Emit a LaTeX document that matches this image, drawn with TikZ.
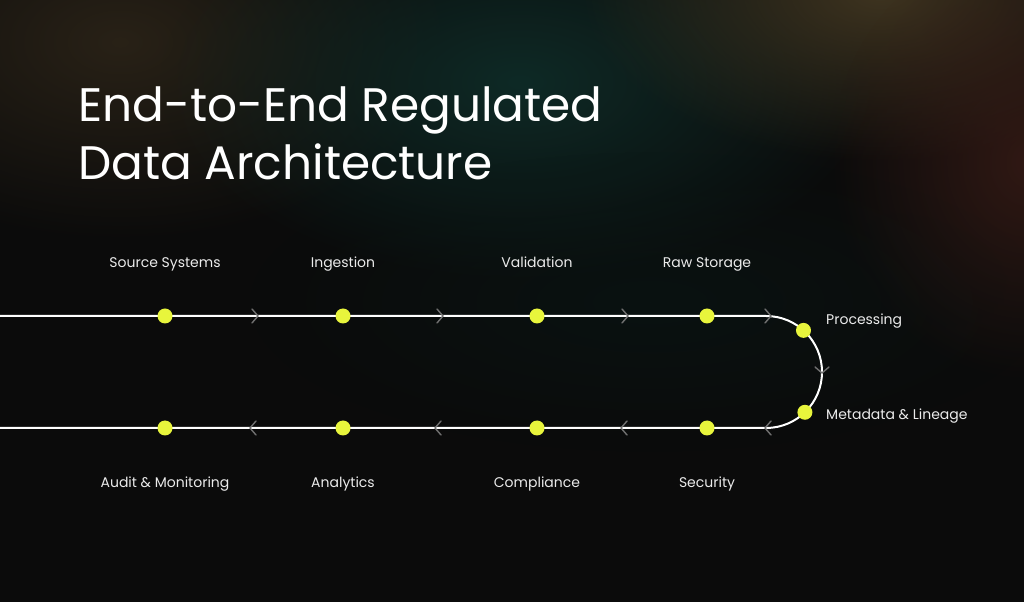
\documentclass[tikz,border=0pt]{standalone}
\usepackage{fontspec}
\setmainfont{Poppins}
\usetikzlibrary{fadings,calc}
\tikzfading[name=softglow, inner color=transparent!0, outer color=transparent!100]
\definecolor{bgdark}{HTML}{0B0B0B}
\definecolor{dotyellow}{HTML}{E8F53C}
\definecolor{chev}{HTML}{707070}
\definecolor{glowteal}{HTML}{0E2A26}
\definecolor{glowbrown}{HTML}{2C2418}
\definecolor{glowolive}{HTML}{3E3420}
\definecolor{glowred}{HTML}{3A1C16}
\begin{document}
\begin{tikzpicture}[x=1pt,y=1pt,
  flow/.style={draw=white, line width=2pt},
  dotnode/.style={circle, fill=dotyellow, minimum size=15pt, inner sep=0pt},
  lbl/.style={text=white!92!black, font=\fontsize{14}{17}\selectfont, inner sep=0pt},
  ttl/.style={anchor=base west, text=white, font=\fontsize{47}{56}\selectfont, inner sep=0pt},
  chevr/.style={draw=chev, line width=1.4pt, line cap=round, line join=round}]
% background
\fill[bgdark] (0,0) rectangle (1024,602);
\useasboundingbox (0,0) rectangle (1024,602);
\begin{scope}
\clip (0,0) rectangle (1024,602);
\fill[glowbrown, opacity=0.9, path fading=softglow] (120,560) ellipse (330 and 200);
\fill[glowteal, opacity=1, path fading=softglow] (520,520) ellipse (360 and 200);
\fill[glowolive, opacity=1, path fading=softglow] (880,610) ellipse (300 and 170);
\fill[glowred, opacity=0.8, path fading=softglow] (1030,440) ellipse (200 and 220);
\fill[glowteal!60!black, opacity=0.5, path fading=softglow] (650,300) ellipse (400 and 150);
\end{scope}
% title
\node[ttl] (title1) at (78,480) {End-to-End Regulated};
\node[ttl] (title2) at (78,422) {Data Architecture};
% path coordinates
\coordinate (lstart) at (0,286);
\coordinate (turnTop) at (766,286);
\coordinate (lend) at (0,174);
\coordinate (p1) at (165,286);
\coordinate (p2) at (343,286);
\coordinate (p3) at (537,286);
\coordinate (p4) at (707,286);
\coordinate (p5) at ($(766,230)+(48:56)$);
\coordinate (p6) at ($(766,230)+(-46:56)$);
\coordinate (q4) at (707,174);
\coordinate (q3) at (537,174);
\coordinate (q2) at (343,174);
\coordinate (q1) at (165,174);
% main line
\draw[flow] (lstart) -- (p1) -- (p2) -- (p3) -- (p4) -- (turnTop) arc[start angle=90, end angle=-90, radius=56] -- (q4) -- (q3) -- (q2) -- (q1) -- (lend);
% chevrons top (pointing right)
\foreach \x in {255,440,625,768} {
  \draw[chevr] (\x-3,293) -- (\x+3,286) -- (\x-3,279);
}
% chevrons bottom (pointing left)
\foreach \x in {253,438,624,768} {
  \draw[chevr] (\x+3,181) -- (\x-3,174) -- (\x+3,167);
}
% chevron on arc (pointing down)
\draw[chevr] (815,235) -- (822,229) -- (829,235);
% dots
\node[dotnode] (d1) at (p1) {};
\node[dotnode] (d2) at (p2) {};
\node[dotnode] (d3) at (p3) {};
\node[dotnode] (d4) at (p4) {};
\node[dotnode] (d5) at (p5) {};
\node[dotnode] (d6) at (p6) {};
\node[dotnode] (e4) at (q4) {};
\node[dotnode] (e3) at (q3) {};
\node[dotnode] (e2) at (q2) {};
\node[dotnode] (e1) at (q1) {};
% labels
\node[lbl, anchor=base] (t1) at (165,334) {Source Systems};
\node[lbl, anchor=base] (t2) at (343,334) {Ingestion};
\node[lbl, anchor=base] (t3) at (537,334) {Validation};
\node[lbl, anchor=base] (t4) at (707,334) {Raw Storage};
\node[lbl, anchor=base west] (t5) at (826,277) {Processing};
\node[lbl, anchor=base west] (t6) at (826,182) {Metadata \& Lineage};
\node[lbl, anchor=base] (b4) at (707,114) {Security};
\node[lbl, anchor=base] (b3) at (537,114) {Compliance};
\node[lbl, anchor=base] (b2) at (343,114) {Analytics};
\node[lbl, anchor=base] (b1) at (165,114) {Audit \& Monitoring};
\end{tikzpicture}
\end{document}
